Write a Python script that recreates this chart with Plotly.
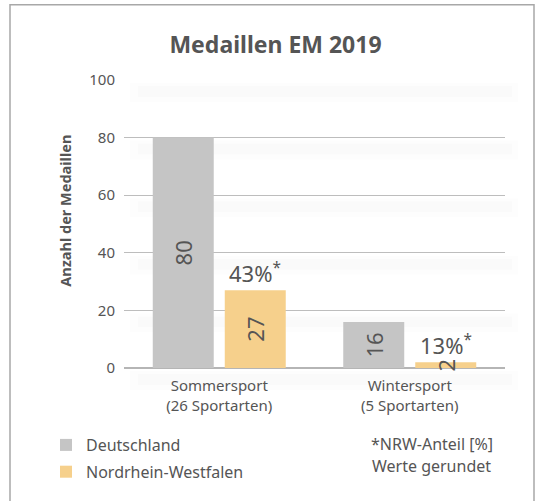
import plotly.graph_objects as go

categories = ["Sommersport<br>(26 Sportarten)", "Wintersport<br>(5 Sportarten)"]
deutschland = [80, 16]
nrw = [27, 2]
nrw_share = [43, 13]
y_ticks = [0, 20, 40, 60, 80, 100]

FONT = "Noto Sans"
TXT = "#555555"
GRAY = "#c5c5c5"
YELLOW = "#f6d08c"

W, H = 544, 501
L, R, T, B = 124, 39, 80, 132.5
PW, PH = W - L - R, H - T - B
Y_MAX = 100


def px(x):
    return (x - L) / PW


def py(y):
    return (H - B - y) / PH


fig = go.Figure()
fig.add_trace(go.Bar(
    x=categories, y=deutschland, name="Deutschland",
    marker=dict(color=GRAY, line=dict(width=0)),
    text=[str(v) for v in deutschland], textposition="inside",
    insidetextanchor="middle", textangle=-90,
    textfont=dict(size=22, color=TXT, family=FONT),
    legendgroup="a", cliponaxis=False,
))
fig.add_trace(go.Bar(
    x=categories, y=nrw, name="Nordrhein-Westfalen",
    marker=dict(color=YELLOW, line=dict(width=0)),
    text=[str(v) for v in nrw], textposition="inside",
    insidetextanchor="middle", textangle=-90,
    textfont=dict(size=22, color=TXT, family=FONT),
    legendgroup="b", cliponaxis=False,
))

# NRW share labels above NRW bars
for c, v, s in zip(categories, nrw, nrw_share):
    fig.add_annotation(
        x=c, y=v, xref="x", yref="y", text=f"{s}%<sup>*</sup>",
        showarrow=False, xanchor="center", yanchor="bottom",
        xshift=36, yshift=0,
        font=dict(size=22, color=TXT, family=FONT),
    )

# y-axis title
fig.add_annotation(
    x=px(65), y=py(211), xref="paper", yref="paper",
    text="<b>Anzahl der Medaillen</b>", textangle=-90, showarrow=False,
    xanchor="center", yanchor="middle",
    font=dict(size=14.5, color=TXT, family=FONT),
)

fig.add_annotation(
    x=px(495), y=py(445), xref="paper", yref="paper", text="*NRW-Anteil [%]",
    showarrow=False, xanchor="right", yanchor="middle",
    font=dict(size=16, color=TXT, family=FONT),
)
fig.add_annotation(
    x=px(493), y=py(467), xref="paper", yref="paper", text="Werte gerundet",
    showarrow=False, xanchor="right", yanchor="middle",
    font=dict(size=16, color=TXT, family=FONT),
)

# soft shadow bands under grid lines
for t in y_ticks:
    base = t / Y_MAX  # paper y of the grid line
    for (a, b, x0, x1, alpha) in [(3, 22, 130, 518, 0.008), (6, 17, 138, 512, 0.01)]:
        fig.add_shape(
            type="rect", xref="paper", yref="paper",
            x0=px(x0), x1=px(x1), y0=base - b / PH, y1=base - a / PH,
            line=dict(width=0), fillcolor=f"rgba(0,0,0,{alpha})",
            layer="below",
        )

# frame
fig.add_shape(
    type="rect", xref="paper", yref="paper",
    x0=px(10), x1=px(534), y0=py(520), y1=py(4.5),
    line=dict(color="#a8a8a8", width=1.5), fillcolor="rgba(0,0,0,0)",
    layer="below",
)

fig.update_layout(
    width=W, height=H,
    margin=dict(l=L, r=R, t=T, b=B, autoexpand=False),
    paper_bgcolor="white", plot_bgcolor="white",
    font=dict(family=FONT, color=TXT, size=15),
    title=dict(text="<b>Medaillen EM 2019</b>", x=275.5 / W, xanchor="center",
               xref="container", y=1 - 45 / H, yanchor="middle",
               font=dict(size=23, color=TXT, family=FONT)),
    barmode="group", bargap=0.244, bargroupgap=0.153,
    uniformtext=dict(mode="show", minsize=22),
    showlegend=True,
    legend=dict(
        xref="container", yref="container", x=46 / W, y=1 - 428 / H,
        xanchor="left", yanchor="top", traceorder="grouped",
        tracegroupgap=3, font=dict(size=16, color=TXT, family=FONT),
        bgcolor="rgba(0,0,0,0)", itemclick=False,
    ),
    xaxis=dict(
        showgrid=False, showline=False, zeroline=False,
        tickfont=dict(size=15, color=TXT, family=FONT), ticks="",
        ticklabelstandoff=7, fixedrange=True,
    ),
    yaxis=dict(
        range=[0, Y_MAX], tickvals=y_ticks, showgrid=True,
        gridcolor="#bdbdbd", gridwidth=1, zeroline=True,
        zerolinecolor="#b5b5b5", zerolinewidth=1.5, showline=False,
        tickfont=dict(size=15, color=TXT, family=FONT), ticks="",
        ticklabelstandoff=8, automargin=False, fixedrange=True,
    ),
)

fig.write_html("out.html", config={"displayModeBar": False},
               post_script="document.body.style.margin='0px';")
